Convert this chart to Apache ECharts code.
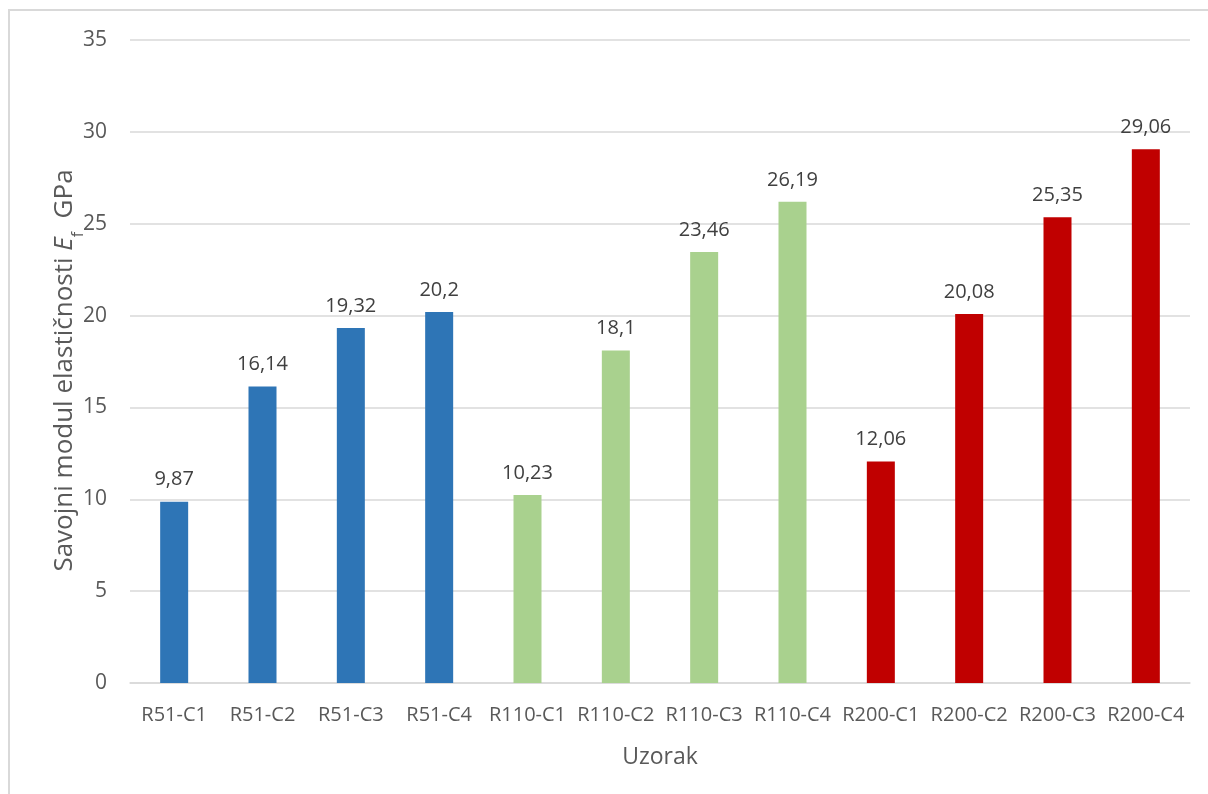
<!DOCTYPE html>
<html>
<head>
<meta charset="utf-8">
<script src="https://cdn.jsdelivr.net/npm/echarts@6/dist/echarts.min.js"></script>
<style>
  html, body { margin: 0; padding: 0; background: #fff; }
  #main { width: 1208px; height: 794px; }
</style>
</head>
<body>
<div id="main"></div>
<script>
  // uzorci i vrijednosti (GPa)
  var categories = ['R51-C1', 'R51-C2', 'R51-C3', 'R51-C4',
                    'R110-C1', 'R110-C2', 'R110-C3', 'R110-C4',
                    'R200-C1', 'R200-C2', 'R200-C3', 'R200-C4'];
  var values = [9.87, 16.14, 19.32, 20.2,
                10.23, 18.1, 23.46, 26.19,
                12.06, 20.08, 25.35, 29.06];
  var groupOf = [0, 0, 0, 0, 1, 1, 1, 1, 2, 2, 2, 2];
  var groupColors = ['#2E75B6', '#A9D18E', '#C00000'];

  var font = '"Open Sans", "Liberation Sans", sans-serif';

  var myChart = echarts.init(document.getElementById('main'));
  var option = {
    backgroundColor: '#fff',
    animation: false,
    graphic: [{
      type: 'rect',
      shape: { x: 9, y: 10, width: 1300, height: 900 },
      style: { fill: 'none', stroke: '#d9d9d9', lineWidth: 2 },
      silent: true
    }],
    grid: { left: 130, right: 18, top: 40, bottom: 111 },
    xAxis: {
      type: 'category',
      data: categories,
      name: 'Uzorak',
      nameLocation: 'middle',
      nameGap: 63,
      nameTextStyle: { fontFamily: font, fontSize: 23, color: '#595959' },
      axisLine: { lineStyle: { color: '#d9d9d9', width: 1.5 } },
      axisTick: { show: false },
      axisLabel: { fontFamily: font, fontSize: 20, color: '#595959', margin: 22, interval: 0 }
    },
    yAxis: {
      type: 'value',
      min: 0,
      max: 35,
      interval: 5,
      name: '{n|Savojni modul elastičnosti }{e|E}{s|f}{n|  GPa}',
      nameLocation: 'middle',
      nameMoveOverlap: false,
      nameGap: 52,
      nameTextStyle: {
        padding: [0, 18, 0, 0],
        rich: {
          n: { fontFamily: font, fontSize: 26, color: '#595959' },
          e: { fontFamily: font, fontSize: 26, color: '#595959', fontStyle: 'italic' },
          s: { fontFamily: font, fontSize: 16, color: '#595959', verticalAlign: 'bottom', padding: [0, 0, -8, 0] }
        }
      },
      axisLine: { show: false },
      axisTick: { show: false },
      axisLabel: { fontFamily: font, fontSize: 21, color: '#595959', margin: 23 },
      splitLine: { lineStyle: { color: '#d9d9d9', width: 1.5 } }
    },
    series: [{
      type: 'bar',
      barWidth: 28,
      data: values.map(function (v, i) {
        return { value: v, itemStyle: { color: groupColors[groupOf[i]] } };
      }),
      label: {
        show: true,
        position: 'top',
        distance: 12,
        fontFamily: font,
        fontSize: 20,
        color: '#404040',
        formatter: function (p) {
          return String(p.value).replace('.', ',');
        }
      }
    }]
  };
  myChart.setOption(option);
</script>
</body>
</html>
